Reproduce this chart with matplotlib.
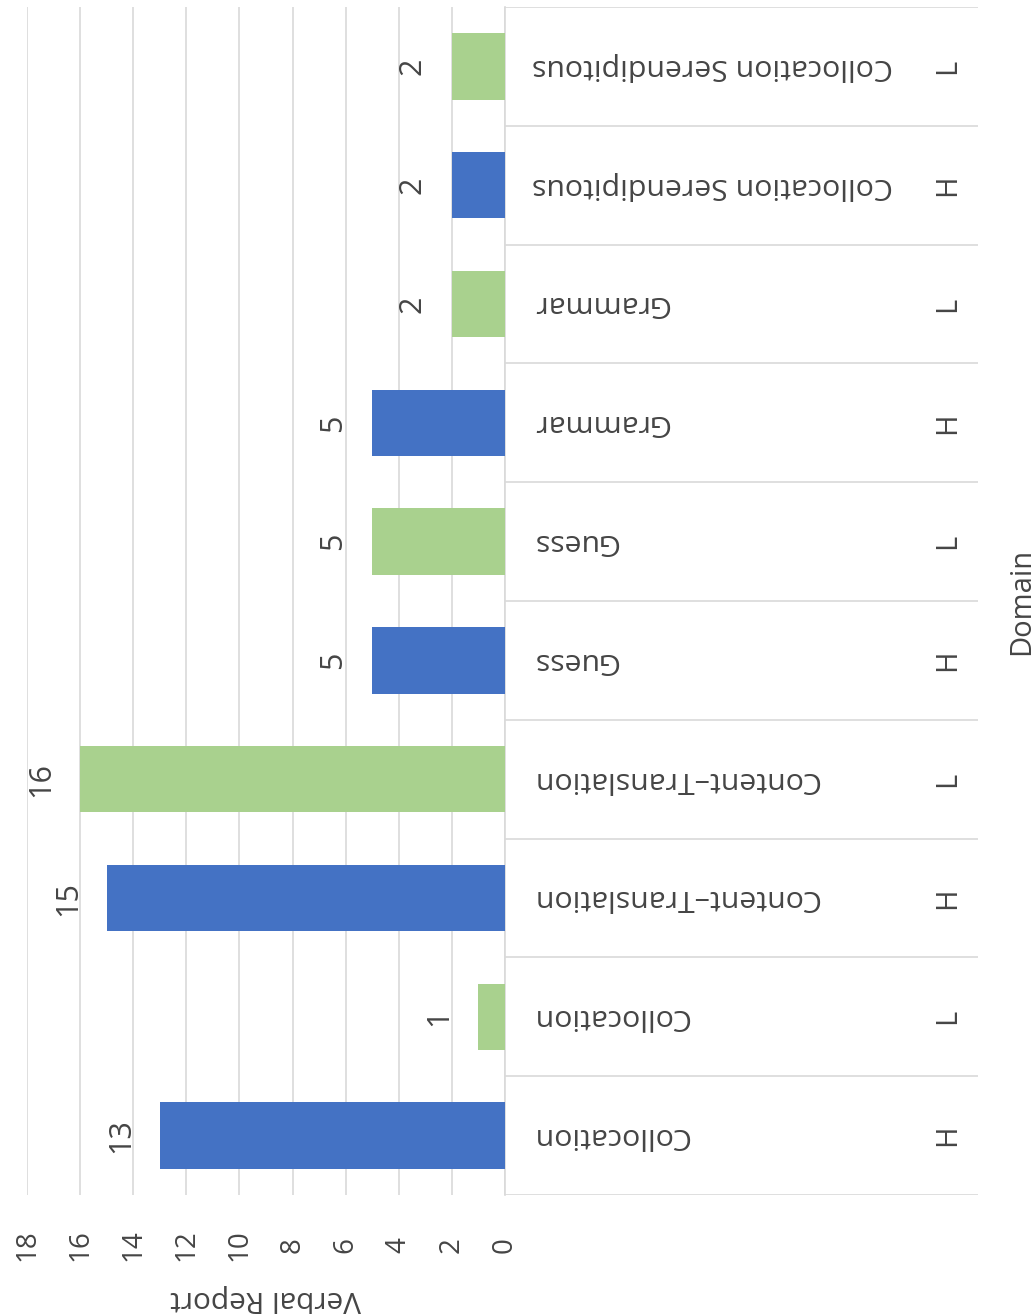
import matplotlib.pyplot as plt

plt.rcParams['font.family'] = ['Open Sans', 'DejaVu Sans']

# data (bottom slot first)
categories = ["Collocation", "Collocation",
              "Content–Translation", "Content–Translation",
              "Guess", "Guess",
              "Grammar", "Grammar",
              "Collocation Serendipitous", "Collocation Serendipitous"]
levels = ["H", "L", "H", "L", "H", "L", "H", "L", "H", "L"]
values = [13, 1, 15, 16, 5, 5, 5, 2, 2, 2]
value_ticks = [0, 2, 4, 6, 8, 10, 12, 14, 16, 18]

level_colors = {"H": "#4472C4", "L": "#A9D18E"}
text_color = "#454545"
grid_color = "#D9D9D9"

W, H = 1034, 1314
fig = plt.figure(figsize=(W / 100, H / 100), dpi=100)

# plot area: value 18 at x=27px, value 0 at x=505px; slots between y=7 and y=1195
ax = fig.add_axes([27 / W, 1 - 1195 / H, (505 - 27) / W, (1195 - 7) / H])
pos = list(range(len(values)))
ax.barh(pos, values, height=0.56,
        color=[level_colors[l] for l in levels], zorder=3)
ax.set_xlim(18, 0)
ax.set_ylim(-0.5, len(values) - 0.5)
ax.set_xticks(value_ticks)
ax.set_xticklabels([str(v) for v in value_ticks], rotation=90,
                   fontsize=20, color=text_color)
for lab in ax.get_xticklabels():
    lab.set_va('center')
ax.tick_params(axis='x', length=0, pad=36)
ax.set_yticks([])
ax.grid(axis='x', color=grid_color, linewidth=1.2, zorder=0)
for side in ['top', 'bottom', 'left']:
    ax.spines[side].set_visible(False)
ax.spines['right'].set_color(grid_color)
ax.spines['right'].set_linewidth(1.2)

for p, v in zip(pos, values):
    ax.annotate(str(v), (v, p), xytext=(-28, 0), textcoords='offset points',
                rotation=90, ha='center', va='center',
                fontsize=22, color=text_color)

# category axis area (multi-level labels)
cax = fig.add_axes([505 / W, 1 - 1195 / H, (978 - 505) / W, (1195 - 7) / H],
                   sharey=ax)
cax.set_xlim(0, 1)
cax.axis('off')
for k in range(len(values) + 1):
    cax.axhline(k - 0.5, color=grid_color, linewidth=1.2)
for p, c, l in zip(pos, categories, levels):
    cax.text(0.057, p, c, rotation=180, ha='left', va='center',
             fontsize=21.8, color=text_color)
    cax.text(0.936, p, l, rotation=90, ha='center', va='center',
             fontsize=21, color=text_color)

fig.text(266 / W, 1 - 1298 / H, "Verbal Report", rotation=180,
         ha='center', va='center', fontsize=21.5, color=text_color)
fig.text(1022 / W, 1 - 601 / H, "Domain", rotation=90,
         ha='center', va='center', fontsize=21, color=text_color)

fig.savefig("out.png", dpi=100)
